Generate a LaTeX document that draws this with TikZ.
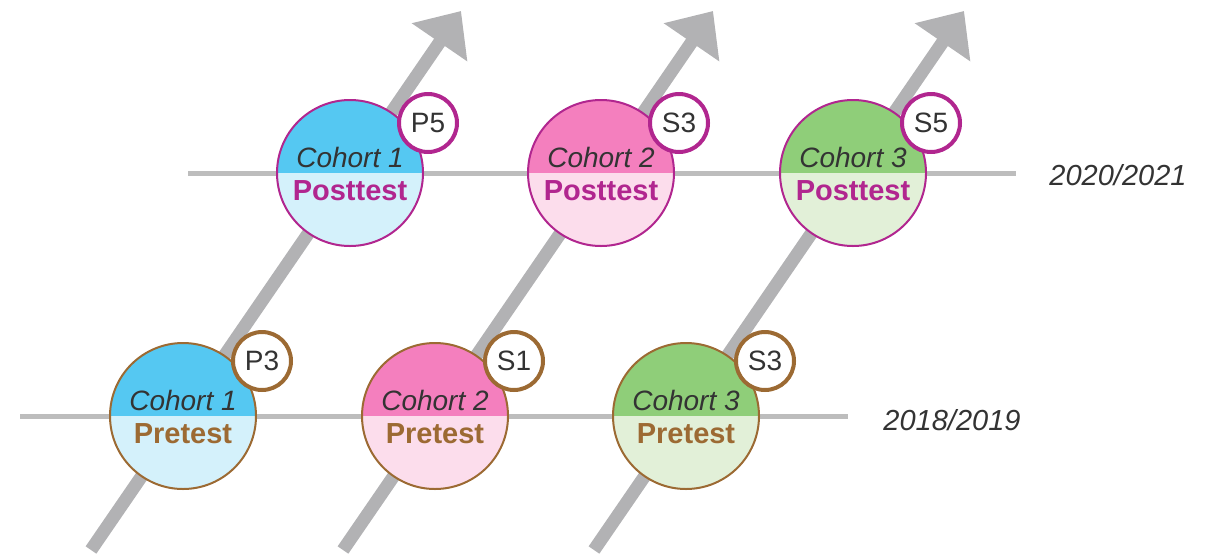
\documentclass[tikz,border=0pt]{standalone}
\usepackage{fontspec}
\setmainfont{Liberation Sans}
\usetikzlibrary{arrows.meta}
\definecolor{arrowgray}{HTML}{B2B2B4}
\definecolor{linegray}{HTML}{BDBDBD}
\definecolor{brownc}{HTML}{9C6A33}
\definecolor{magc}{HTML}{B1268F}
\definecolor{blueT}{HTML}{55C8F2}
\definecolor{blueB}{HTML}{D4F1FB}
\definecolor{pinkT}{HTML}{F47FBE}
\definecolor{pinkB}{HTML}{FCDDEC}
\definecolor{greenT}{HTML}{8FCE79}
\definecolor{greenB}{HTML}{E2F0D8}
\definecolor{txt}{HTML}{333333}
\begin{document}
\begin{tikzpicture}[x=1pt,y=-1pt,
  bigarrow/.style={line width=13pt, arrowgray, -{Triangle[length=38pt,width=65pt]}},
  hline/.style={line width=5pt, linegray},
  maincirc/.style 2 args={circle, minimum size=146pt, inner sep=0pt, line width=2pt, draw=#2,
    path picture={\fill[#1T] (path picture bounding box.north west) rectangle (path picture bounding box.east);
                  \fill[#1B] (path picture bounding box.west) rectangle (path picture bounding box.south east);}},
  badge/.style={circle, minimum size=58pt, inner sep=0pt, line width=4pt, draw=#1, fill=white,
    text=txt, font=\fontsize{28}{30}\selectfont},
  cohortlbl/.style={anchor=base, text=txt, font=\fontsize{28}{30}\selectfont\itshape, inner sep=0pt},
  testlbl/.style={anchor=base, text=#1, font=\fontsize{29}{31}\selectfont\bfseries, inner sep=0pt},
  yearlbl/.style={anchor=base, text=txt, font=\fontsize{29}{31}\selectfont\itshape, inner sep=0pt}
]
\useasboundingbox (0,0) rectangle (1209,555);

% horizontal time lines
\coordinate (l1a) at (20,416);  \coordinate (l1b) at (848,416);
\coordinate (l2a) at (188,173); \coordinate (l2b) at (1016,173);
\draw[hline] (l1a) -- (l1b);
\draw[hline] (l2a) -- (l2b);

% diagonal arrows
\coordinate (a1s) at (91,550);  \coordinate (a1e) at (461,11);
\coordinate (a2s) at (343,550); \coordinate (a2e) at (713,11);
\coordinate (a3s) at (594,550); \coordinate (a3e) at (964,11);
\draw[bigarrow] (a1s) -- (a1e);
\draw[bigarrow] (a2s) -- (a2e);
\draw[bigarrow] (a3s) -- (a3e);

% circles
\node[maincirc={blue}{brownc}]  (c1p) at (183,416) {};
\node[maincirc={pink}{brownc}]  (c2p) at (435,416) {};
\node[maincirc={green}{brownc}] (c3p) at (686,416) {};
\node[maincirc={blue}{magc}]    (c1q) at (350,173) {};
\node[maincirc={pink}{magc}]    (c2q) at (601,173) {};
\node[maincirc={green}{magc}]   (c3q) at (853,173) {};

% labels in circles
\node[cohortlbl] (t1p) at ([yshift=6pt]c1p.center) {Cohort 1};
\node[cohortlbl] (t2p) at ([yshift=6pt]c2p.center) {Cohort 2};
\node[cohortlbl] (t3p) at ([yshift=6pt]c3p.center) {Cohort 3};
\node[cohortlbl] (t1q) at ([yshift=6pt]c1q.center) {Cohort 1};
\node[cohortlbl] (t2q) at ([yshift=6pt]c2q.center) {Cohort 2};
\node[cohortlbl] (t3q) at ([yshift=6pt]c3q.center) {Cohort 3};
\node[testlbl=brownc] (u1p) at ([yshift=-27pt]c1p.center) {Pretest};
\node[testlbl=brownc] (u2p) at ([yshift=-27pt]c2p.center) {Pretest};
\node[testlbl=brownc] (u3p) at ([yshift=-27pt]c3p.center) {Pretest};
\node[testlbl=magc] (u1q) at ([yshift=-27pt]c1q.center) {Posttest};
\node[testlbl=magc] (u2q) at ([yshift=-27pt]c2q.center) {Posttest};
\node[testlbl=magc] (u3q) at ([yshift=-27pt]c3q.center) {Posttest};

% badges
\node[badge=brownc] (b1p) at (262,361) {P3};
\node[badge=brownc] (b2p) at (514,361) {S1};
\node[badge=brownc] (b3p) at (765,361) {S3};
\node[badge=magc]   (b1q) at (428,123) {P5};
\node[badge=magc]   (b2q) at (679,123) {S3};
\node[badge=magc]   (b3q) at (931,123) {S5};

% years
\node[yearlbl] (y1) at (952,430) {2018/2019};
\node[yearlbl] (y2) at (1118,185) {2020/2021};
\end{tikzpicture}
\end{document}
